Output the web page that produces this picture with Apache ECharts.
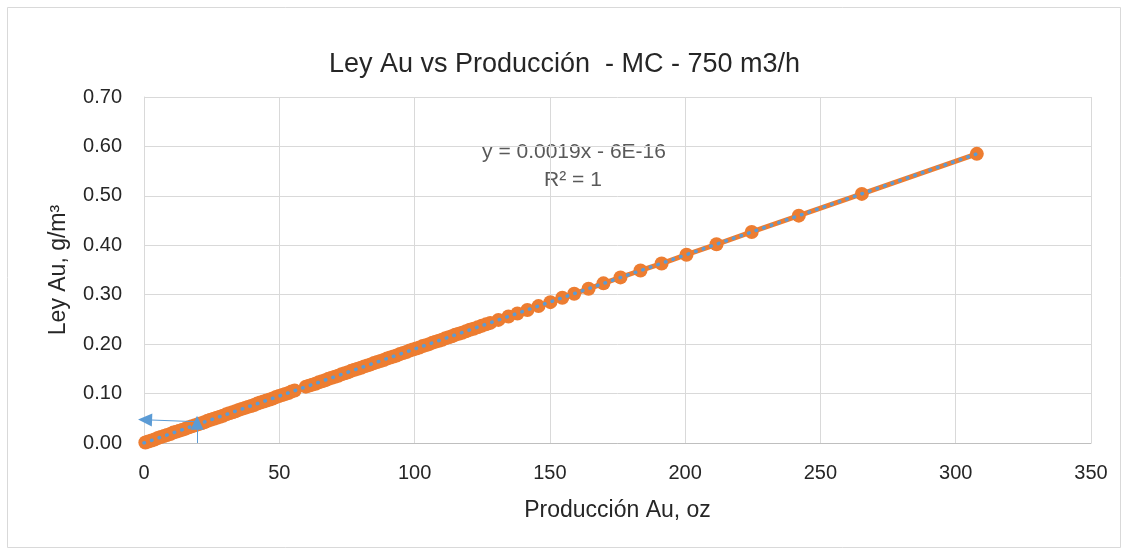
<!DOCTYPE html>
<html>
<head>
<meta charset="utf-8">
<script src="https://cdn.jsdelivr.net/npm/echarts@6/dist/echarts.min.js"></script>
<style>
html,body{margin:0;padding:0;background:#fff;}
#chart{width:1129px;height:555px;}
</style>
</head>
<body>
<div id="chart"></div>
<script>
// Producción Au, oz (x) and Ley Au, g/m3 (y)
var prodAu = [0.5,1.6,2.8,3.9,5.1,6.2,7.4,8.5,9.7,10.8,12.0,13.1,14.3,15.4,16.6,17.7,18.9,20.0,21.2,22.3,23.5,24.6,25.8,26.9,28.1,29.2,30.4,31.5,32.7,33.8,35.0,36.1,37.3,38.4,39.6,40.7,41.9,43.0,44.2,45.3,46.5,47.6,48.8,49.9,51.1,52.2,53.4,54.5,55.7,59.8,61.0,62.2,63.4,64.6,65.8,67.0,68.2,69.4,70.6,71.8,73.0,74.2,75.4,76.6,77.8,79.0,80.2,81.4,82.6,83.8,85.0,86.2,87.4,88.6,89.8,91.0,92.2,93.4,94.6,95.8,97.0,98.2,99.4,100.6,101.8,103.0,104.2,105.4,106.6,107.8,109.0,110.2,111.4,112.6,113.8,115.0,116.3,117.6,119.0,120.4,121.8,123.3,124.8,126.4,128.0,131.0,134.7,138.0,141.7,145.8,150.2,154.6,159.0,164.3,169.8,176.1,183.5,191.3,200.5,211.6,224.6,242.0,265.3,307.8];
var leyAu = [0.001,0.003,0.005,0.007,0.010,0.012,0.014,0.016,0.018,0.021,0.023,0.025,0.027,0.029,0.032,0.034,0.036,0.038,0.040,0.042,0.045,0.047,0.049,0.051,0.053,0.055,0.058,0.060,0.062,0.064,0.067,0.069,0.071,0.073,0.075,0.077,0.080,0.082,0.084,0.086,0.088,0.090,0.093,0.095,0.097,0.099,0.101,0.104,0.106,0.114,0.116,0.118,0.120,0.123,0.125,0.127,0.130,0.132,0.134,0.136,0.139,0.141,0.143,0.146,0.148,0.150,0.152,0.155,0.157,0.159,0.162,0.164,0.166,0.168,0.171,0.173,0.175,0.177,0.180,0.182,0.184,0.187,0.189,0.191,0.193,0.196,0.198,0.200,0.203,0.205,0.207,0.209,0.212,0.214,0.216,0.219,0.221,0.223,0.226,0.229,0.231,0.234,0.237,0.240,0.243,0.249,0.256,0.262,0.269,0.277,0.285,0.294,0.302,0.312,0.323,0.335,0.349,0.363,0.381,0.402,0.427,0.460,0.504,0.585];
// Linear trendline endpoints (y = 0.0019x)
var trendX = [0, 307.8];
var trendY = [0, 0.585];
// Blue arrow annotation points
var arrowUp = [[19.6, 0], [19.6, 0.041]];
var arrowLeft = [[19.6, 0.043], [0.4, 0.047]];
var xTicks = [0, 50, 100, 150, 200, 250, 300, 350];
var yTicks = [0, 0.1, 0.2, 0.3, 0.4, 0.5, 0.6, 0.7];

var FONT = 'Liberation Sans';
var scatterData = prodAu.map(function(v, i){ return [v, leyAu[i]]; });
var trendData = trendX.map(function(v, i){ return [v, trendY[i]]; });

var chart = echarts.init(document.getElementById('chart'), null, {renderer:'canvas'});
chart.setOption({
  backgroundColor:'#ffffff',
  animation:false,
  title:{
    text:'Ley Au vs Producción  - MC - 750 m3/h',
    left:'center', top:46,
    textStyle:{fontFamily:FONT, fontSize:27, fontWeight:'normal', color:'#262626'}
  },
  grid:{left:144, right:38, top:97, bottom:112, containLabel:false},
  xAxis:{
    type:'value', min:0, max:350, interval:50,
    name:'Producción Au, oz', nameLocation:'middle', nameGap:56,
    nameTextStyle:{fontFamily:FONT, fontSize:23, color:'#262626'},
    axisLine:{show:true, lineStyle:{color:'#bfbfbf', width:1}},
    axisTick:{show:false},
    axisLabel:{fontFamily:FONT, fontSize:20, color:'#262626', margin:20,
      formatter:function(v){ return xTicks.indexOf(v) >= 0 ? String(v) : ''; }},
    splitLine:{show:true, lineStyle:{color:'#d9d9d9', width:1}}
  },
  yAxis:{
    type:'value', min:0, max:0.7, interval:0.1,
    name:'Ley Au, g/m³', nameLocation:'middle', nameGap:74, nameRotate:90,
    nameTextStyle:{fontFamily:FONT, fontSize:23, color:'#262626'},
    axisLine:{show:true, lineStyle:{color:'#d9d9d9', width:1}},
    axisTick:{show:false},
    axisLabel:{fontFamily:FONT, fontSize:20, color:'#262626', margin:22,
      formatter:function(v){ return v.toFixed(2); }},
    splitLine:{show:true, lineStyle:{color:'#d9d9d9', width:1}}
  },
  graphic:[
    {type:'rect', shape:{x:7.5, y:7.5, width:1113, height:540}, style:{fill:'none', stroke:'#d9d9d9', lineWidth:1}, silent:true, z:-1},
    {type:'text', x:574, y:152, style:{text:'y = 0.0019x - 6E-16', fontFamily:FONT, fontSize:21, fill:'#595959', align:'center', verticalAlign:'middle'}},
    {type:'text', x:573, y:180, style:{text:'R² = 1', fontFamily:FONT, fontSize:21, fill:'#595959', align:'center', verticalAlign:'middle'}}
  ],
  series:[
    {
      type:'line', data:scatterData,
      symbol:'circle', symbolSize:14, showSymbol:true,
      lineStyle:{color:'#ED7D31', width:5},
      itemStyle:{color:'#ED7D31'},
      z:2
    },
    {
      type:'line', data:trendData, symbol:'none',
      lineStyle:{color:'#5B9BD5', width:3.5, type:[0.5,7.5], cap:'round'},
      z:3
    },
    {
      type:'line', data:[], symbol:'none',
      markLine:{
        silent:true, animation:false,
        symbol:['none','triangle'], symbolSize:[13,14],
        label:{show:false},
        lineStyle:{color:'#5B9BD5', width:1, type:'solid'},
        data:[
          [{coord:arrowUp[0]},{coord:arrowUp[1]}],
          [{coord:arrowLeft[0]},{coord:arrowLeft[1]}]
        ]
      },
      z:4
    }
  ]
});
</script>
</body>
</html>
